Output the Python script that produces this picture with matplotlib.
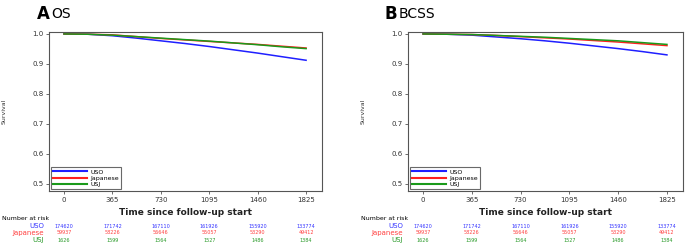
import matplotlib.pyplot as plt
import matplotlib.transforms as mtransforms

days = [0, 182, 365, 547, 730, 912, 1095, 1277, 1460, 1642, 1825]

# OS
os_uso = [1.0, 0.999, 0.994, 0.986, 0.977, 0.968, 0.958, 0.947, 0.936, 0.924, 0.912]
os_jap = [1.0, 0.999, 0.997, 0.991, 0.985, 0.980, 0.975, 0.970, 0.965, 0.959, 0.953]
os_usj = [1.0, 0.999, 0.996, 0.991, 0.986, 0.981, 0.976, 0.970, 0.964, 0.957, 0.951]

# BCSS
bc_uso = [1.0, 0.999, 0.996, 0.990, 0.984, 0.977, 0.969, 0.960, 0.951, 0.941, 0.930]
bc_jap = [1.0, 0.999, 0.998, 0.995, 0.991, 0.987, 0.983, 0.978, 0.973, 0.967, 0.961]
bc_usj = [1.0, 0.999, 0.998, 0.995, 0.992, 0.989, 0.985, 0.981, 0.977, 0.971, 0.965]

risk_times = [0, 365, 730, 1095, 1460, 1825]
risk_uso = [174620, 171742, 167110, 161926, 155920, 133774]
risk_jap = [59937, 58226, 56646, 55057, 53290, 49412]
risk_usj = [1626, 1599, 1564, 1527, 1486, 1384]

groups = ["USO", "Japanese", "USJ"]
colors = ["#1f1fff", "#ff2020", "#1a9a1a"]
txt_colors = ["#3535ff", "#ff4040", "#2a9a2a"]

fig = plt.figure(figsize=(6.85, 2.44), dpi=100)
W, H = 685, 244


def panel(left, right, letter, name, curves, title_x):
    ax = fig.add_axes([left / W, 1 - 191 / H, (right - left) / W, (191 - 32) / H])
    for ys, c, g in zip(curves, colors, groups):
        ax.plot(days, ys, color=c, lw=1.1, label=g)
    ax.set_xlim(-113, 1945)
    ax.set_ylim(0.475, 1.0065)
    ax.set_xticks(risk_times)
    ax.set_yticks([0.5, 0.6, 0.7, 0.8, 0.9, 1.0])
    ax.set_yticklabels(["0.5", "0.6", "0.7", "0.8", "0.9", "1.0"])
    ax.tick_params(labelsize=5, length=2, width=0.5, colors="#333333", pad=2)
    for s in ax.spines.values():
        s.set_color("#555555")
        s.set_linewidth(0.8)
    ax.set_xlabel("Time since follow-up start", fontsize=6.5, fontweight="bold",
                  color="#222222", labelpad=4)
    ax.set_ylabel("Survival", fontsize=4.5, color="#333333")
    ax.yaxis.set_label_coords(-42 / (right - left), 0.5)
    leg = ax.legend(loc="lower left", fontsize=4.5, frameon=True, fancybox=False,
                    handlelength=5.5, handletextpad=0.5, borderpad=0.3,
                    labelspacing=0.15, borderaxespad=0.3)
    leg.get_frame().set_edgecolor("#444444")
    leg.get_frame().set_linewidth(0.8)
    for line in leg.get_lines():
        line.set_linewidth(1.5)
    fig.text(title_x / W, 1 - 14 / H, letter, fontsize=12, fontweight="bold",
             va="center", ha="left")
    fig.text((title_x + 14) / W, 1 - 14 / H, name, fontsize=10, va="center", ha="left")

    # number at risk table
    tr = mtransforms.blended_transform_factory(ax.transData, fig.transFigure)
    fig.text((left - 47) / W, 1 - 219 / H, "Number at risk", fontsize=4.5,
             va="center", ha="left")
    rows = [risk_uso, risk_jap, risk_usj]
    ys = [226, 233, 240]
    for row, c, g, y in zip(rows, txt_colors, groups, ys):
        fig.text((left - 5) / W, 1 - y / H, g, fontsize=5, color=c,
                 va="center", ha="right")
        for t, v in zip(risk_times, row):
            ax.text(t, 1 - y / H, str(v), transform=tr, fontsize=3.5, color=c,
                    va="center", ha="center")
    return ax


panel(49, 322, "A", "OS", [os_uso, os_jap, os_usj], 37)
panel(408, 683, "B", "BCSS", [bc_uso, bc_jap, bc_usj], 385)

fig.savefig("out.png", dpi=100)
